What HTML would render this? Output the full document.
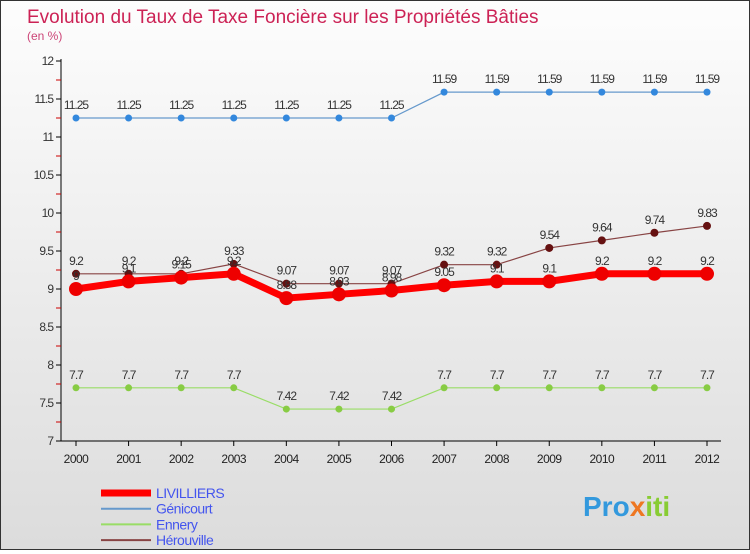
<!DOCTYPE html>
<html><head><meta charset="utf-8"><style>
body{margin:0;width:750px;height:550px;overflow:hidden;font-family:"Liberation Sans",sans-serif}
#wrap{position:absolute;left:0;top:0;width:748px;height:548px;border:1px solid #333;background:linear-gradient(#fdfdfd,#dcdcdc)}
svg text{font-family:"Liberation Sans",sans-serif}
</style></head><body>
<div id="wrap">
<svg id="c" width="748" height="548">
<text x="26" y="22" font-size="19" fill="#cc2255">Evolution du Taux de Taxe Foncière sur les Propriétés Bâties</text>
<text x="26" y="39" font-size="12" fill="#cc4477">(en %)</text>
<g id="g"></g>
<text x="582" y="515" font-size="28" font-weight="bold" fill="#3399dd">Pro<tspan fill="#ee7722">x</tspan><tspan fill="#88cc33">iti</tspan></text>
</svg></div>
<script>
const years=[2000,2001,2002,2003,2004,2005,2006,2007,2008,2009,2010,2011,2012];
const yTicks=[7,7.5,8,8.5,9,9.5,10,10.5,11,11.5,12];
const livilliers=[9,9.1,9.15,9.2,8.88,8.93,8.98,9.05,9.1,9.1,9.2,9.2,9.2];
const genicourt=[11.25,11.25,11.25,11.25,11.25,11.25,11.25,11.59,11.59,11.59,11.59,11.59,11.59];
const ennery=[7.7,7.7,7.7,7.7,7.42,7.42,7.42,7.7,7.7,7.7,7.7,7.7,7.7];
const herouville=[9.2,9.2,9.2,9.33,9.07,9.07,9.07,9.32,9.32,9.54,9.64,9.74,9.83];
const NS="http://www.w3.org/2000/svg",g=document.getElementById('g');
const x=i=>75+i*(631/12), y=v=>440-(v-7)*76;
function el(t,a,p){const e=document.createElementNS(NS,t);for(const k in a)e.setAttribute(k,a[k]);(p||g).appendChild(e);return e;}
let ax=el('line',{x1:60,y1:58,x2:60,y2:440,stroke:'#000'});


let xa=el('line',{x1:60,y1:440,x2:720,y2:440,stroke:'#000'});


yTicks.forEach(v=>{el('line',{x1:55,y1:y(v),x2:60,y2:y(v),stroke:'#000'});
 if(v<12)el('line',{x1:55,y1:y(v+0.25),x2:60,y2:y(v+0.25),stroke:'#c00'});
 const t=el('text',{x:52,y:y(v)+4,'font-size':12,fill:'#333','text-anchor':'end','letter-spacing':'-1'});t.textContent=String(v);
 
 });
years.forEach((yr,i)=>{el('line',{x1:x(i),y1:440,x2:x(i),y2:445,stroke:'#000'});
 const t=el('text',{x:x(i),y:462,'font-size':12,fill:'#222','text-anchor':'middle','letter-spacing':'-0.5'});t.textContent=yr;
 
 });
function series(d,col,w,r,dot,name){
 const p=el('polyline',{points:d.map((v,i)=>x(i)+','+y(v)).join(' '),fill:'none',stroke:col,'stroke-width':w});
 
 
 d.forEach((v,i)=>{const c=el('circle',{cx:x(i),cy:y(v),r:r,fill:dot});
  
  
  const t=el('text',{x:x(i),y:y(v)-9,'font-size':12,fill:'#333','text-anchor':'middle','letter-spacing':'-1'});t.textContent=String(v);
  
  });}
series(genicourt,'#6699cc',1.2,3.5,'#3388dd','genicourt');
series(ennery,'#99dd66',1.2,3.5,'#88cc44','ennery');
series(herouville,'#884444',1.2,4,'#661111','herouville');
series(livilliers,'#ff0000',7,7,'#ee0000','livilliers');
[['LIVILLIERS','#ff0000',7],['Génicourt','#6699cc',2],['Ennery','#99dd66',2],['Hérouville','#884444',2]].forEach((l,i)=>{
 const yy=492+i*15.7;
 const ln=el('line',{x1:100,y1:yy,x2:150,y2:yy,stroke:l[1],'stroke-width':l[2]});
 
 
 const t=el('text',{x:155,y:yy+5,'font-size':14,fill:'#4455ee','letter-spacing':'-0.5'});t.textContent=l[0];
 
 });
</script>
</body></html>
